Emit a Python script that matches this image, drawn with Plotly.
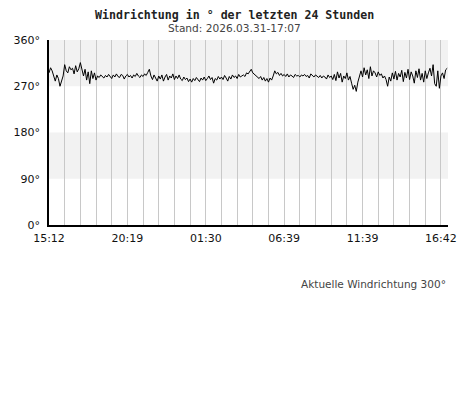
import plotly.graph_objects as go

# Zeit in Stunden ab 15:12 (Schritt 0.1 h)
richtung = [
    296, 306, 300, 288, 280, 292, 285, 270, 278, 290,
    312, 300, 296, 308, 302, 305, 294, 310, 298, 304,
    316, 300, 290, 303, 282, 298, 275, 300, 285, 296,
    282, 290, 287, 292, 289, 286, 291, 288, 293, 290,
    285, 292, 288, 294, 289, 287, 293, 291, 284, 290,
    293, 288, 291, 286, 292, 289, 295, 290, 287, 292,
    289, 294, 291, 297, 303, 290, 283, 292, 286, 280,
    290, 284, 292, 280, 288, 293, 282, 290, 286, 294,
    283, 290, 285, 292, 284, 281, 288, 283, 286, 279,
    284, 278, 285, 281, 287, 283, 279, 286, 282, 288,
    281, 285, 290, 283, 287, 276, 285, 282, 289, 284,
    288, 283, 291, 286, 280, 289, 284, 292, 287, 290,
    285, 293, 288, 290, 292, 289, 296, 294, 300, 303,
    296, 293, 290, 288, 285, 289, 282, 287, 280, 285,
    278, 286, 282, 290, 300, 294, 297, 291, 295, 290,
    293, 289, 294, 288, 292, 290, 287, 293, 290, 291,
    288, 292, 290, 293, 289, 291, 286, 294, 290, 288,
    292, 289, 287, 291, 286, 290, 288, 284, 292, 287,
    290, 283, 293, 281, 298, 286, 295, 278, 290, 285,
    296, 282, 289, 276, 264, 272, 260, 278, 290, 300,
    288, 306, 292, 302, 285, 308, 290, 300, 296, 288,
    298, 291, 294, 286, 290, 283, 270, 288, 280, 296,
    284, 299, 282, 295, 288, 301, 279, 297, 286, 303,
    283, 298, 290, 276, 300, 287, 304, 282, 295, 278,
    300, 285, 296, 305, 290, 312, 275, 270, 300, 266,
    290, 296, 285, 302, 305,
]
zeit = [i / 10 for i in range(len(richtung))]

zeit_labels = ['15:12', '20:19', '01:30', '06:39', '11:39', '16:42']
y_ticks = [0, 90, 180, 270, 360]

x_ticks = list(range(26))
x_text = [zeit_labels[i // 5] if i % 5 == 0 else '' for i in x_ticks]

fig = go.Figure()
fig.add_trace(go.Scatter(
    x=zeit, y=richtung, mode='lines',
    line=dict(color='black', width=1), hoverinfo='skip'))

# graue Baender 270-360 und 90-180
for y0, y1 in [(270, 360), (90, 180)]:
    fig.add_shape(
        type='rect', xref='x domain', yref='y', x0=0, x1=1, y0=y0, y1=y1,
        fillcolor='#f2f2f2', line=dict(width=0), layer='below')

fig.update_xaxes(
    range=[0, 25.45], tickvals=x_ticks, ticktext=x_text,
    showgrid=True, gridcolor='#c8c8c8', gridwidth=1,
    showline=True, linecolor='black', linewidth=1.5,
    ticks='outside', ticklen=2, tickcolor='rgba(0,0,0,0)',
    zeroline=False, automargin=False,
    tickfont=dict(family='DejaVu Sans', size=11, color='#111'))
fig.update_yaxes(
    range=[0, 360], tickvals=y_ticks, ticktext=[f'{v}°' for v in y_ticks],
    showgrid=False, showline=True, linecolor='black', linewidth=1.5,
    ticks='outside', ticklen=5, tickcolor='rgba(0,0,0,0)', zeroline=False,
    automargin=False,
    tickfont=dict(family='DejaVu Sans', size=11, color='#111'))

fig.add_annotation(
    text='<b>Windrichtung in ° der letzten 24 Stunden</b>',
    xref='paper', yref='paper', x=0.4637, y=1.135, yanchor='middle',
    showarrow=False,
    font=dict(family='DejaVu Sans Mono', size=11.6, color='#222'))
fig.add_annotation(
    text='Stand: 2026.03.31-17:07',
    xref='paper', yref='paper', x=0.4637, y=1.063, yanchor='middle',
    showarrow=False,
    font=dict(family='DejaVu Sans', size=10.6, color='#444'))
fig.add_annotation(
    text='Aktuelle Windrichtung 300°',
    xref='paper', yref='paper', x=1.0, xanchor='right', y=-0.319,
    yanchor='middle', showarrow=False,
    font=dict(family='DejaVu Sans', size=10.5, color='#444'))

# Seite hat 8px Rand, daher Groesse und Raender angepasst
fig.update_layout(
    width=460, height=407, showlegend=False,
    margin=dict(l=41, r=20, t=32, b=190),
    plot_bgcolor='white', paper_bgcolor='white')

fig.write_html('out.html')
